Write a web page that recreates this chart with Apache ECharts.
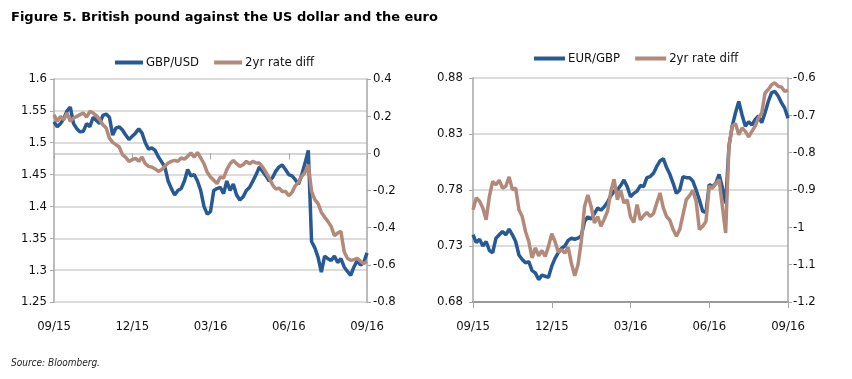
<!DOCTYPE html>
<html><head><meta charset="utf-8">
<script src="https://cdn.jsdelivr.net/npm/echarts@6/dist/echarts.min.js"></script>
<style>html,body{margin:0;padding:0;background:#fff}#c{width:852px;height:379px}</style>
</head><body><div id="c"></div>
<script>
const titleText = 'Figure 5. British pound against the US dollar and the euro';
const sourceText = 'Source: Bloomberg.';
const tickLabels = ['09/15', '12/15', '03/16', '06/16', '09/16'];
const stepMonths = 0.125; // sampling step of the series below, in months from 09/15

const gbpusd = [
  1.533, 1.525, 1.530, 1.538, 1.550, 1.556, 1.530, 1.522,
  1.517, 1.518, 1.530, 1.525, 1.540, 1.535, 1.530, 1.543,
  1.545, 1.540, 1.512, 1.523, 1.525, 1.520, 1.512, 1.505,
  1.510, 1.515, 1.522, 1.515, 1.500, 1.490, 1.492, 1.488,
  1.478, 1.470, 1.462, 1.440, 1.428, 1.418, 1.425, 1.428,
  1.440, 1.458, 1.448, 1.450, 1.440, 1.425, 1.400, 1.388,
  1.392, 1.425, 1.428, 1.430, 1.420, 1.440, 1.425, 1.435,
  1.418, 1.410, 1.415, 1.425, 1.430, 1.440, 1.450, 1.462,
  1.455, 1.448, 1.440, 1.445, 1.455, 1.462, 1.465, 1.458,
  1.450, 1.448, 1.442, 1.435, 1.450, 1.468, 1.488, 1.345,
  1.335, 1.320, 1.297, 1.322, 1.318, 1.315, 1.322, 1.312,
  1.318, 1.305, 1.298, 1.292, 1.305, 1.315, 1.308, 1.312,
  1.327
];
const gbpRateDiff = [
  0.208, 0.172, 0.199, 0.181, 0.217, 0.172, 0.190, 0.199,
  0.208, 0.217, 0.195, 0.226, 0.217, 0.203, 0.181, 0.154,
  0.136, 0.082, 0.059, 0.047, 0.034, -0.007, -0.022, -0.043,
  -0.034, -0.027, -0.043, -0.020, -0.056, -0.070, -0.074, -0.084,
  -0.097, -0.088, -0.070, -0.052, -0.043, -0.038, -0.043, -0.025,
  -0.031, -0.016, 0.002, -0.020, 0.005, -0.025, -0.056, -0.102,
  -0.127, -0.145, -0.163, -0.127, -0.133, -0.088, -0.056, -0.038,
  -0.056, -0.070, -0.061, -0.043, -0.056, -0.043, -0.052, -0.052,
  -0.074, -0.102, -0.133, -0.169, -0.192, -0.187, -0.205, -0.205,
  -0.228, -0.210, -0.174, -0.156, -0.124, -0.102, -0.061, -0.205,
  -0.249, -0.271, -0.318, -0.343, -0.366, -0.393, -0.443, -0.429,
  -0.420, -0.530, -0.565, -0.576, -0.572, -0.565, -0.581, -0.594,
  -0.581
];
const eurgbp = [
  0.740, 0.733, 0.736, 0.730, 0.734, 0.726, 0.724, 0.737,
  0.740, 0.743, 0.740, 0.745, 0.740, 0.734, 0.722, 0.718,
  0.715, 0.716, 0.708, 0.706, 0.700, 0.704, 0.703, 0.702,
  0.712, 0.719, 0.724, 0.728, 0.730, 0.735, 0.737, 0.736,
  0.737, 0.739, 0.752, 0.756, 0.754, 0.759, 0.764, 0.762,
  0.765, 0.769, 0.775, 0.779, 0.780, 0.784, 0.789, 0.783,
  0.774, 0.777, 0.779, 0.784, 0.783, 0.791, 0.792, 0.795,
  0.801, 0.806, 0.808, 0.800, 0.794, 0.786, 0.777, 0.780,
  0.792, 0.791, 0.791, 0.788, 0.780, 0.771, 0.761, 0.760,
  0.785, 0.783, 0.786, 0.794, 0.782, 0.768, 0.819, 0.837,
  0.849, 0.859, 0.847, 0.837, 0.841, 0.838, 0.843, 0.846,
  0.840, 0.849, 0.859, 0.867, 0.868, 0.864, 0.858, 0.853,
  0.844
];
const eurRateDiff = [
  -0.953, -0.921, -0.930, -0.948, -0.980, -0.917, -0.877, -0.886,
  -0.874, -0.895, -0.890, -0.865, -0.899, -0.895, -0.953, -0.971,
  -1.011, -1.038, -1.082, -1.055, -1.076, -1.062, -1.078, -1.051,
  -1.017, -1.038, -1.067, -1.060, -1.069, -1.053, -1.097, -1.130,
  -1.100, -1.038, -0.944, -0.913, -0.944, -0.988, -0.971, -0.997,
  -0.978, -0.957, -0.904, -0.871, -0.926, -0.901, -0.935, -0.926,
  -0.972, -0.987, -0.939, -0.980, -0.969, -0.960, -0.971, -0.963,
  -0.935, -0.908, -0.948, -0.971, -0.981, -1.006, -1.024, -1.006,
  -0.966, -0.926, -0.915, -0.901, -0.930, -1.006, -0.997, -0.984,
  -0.890, -0.895, -0.883, -0.872, -0.944, -1.015, -0.783, -0.729,
  -0.722, -0.752, -0.734, -0.743, -0.758, -0.743, -0.729, -0.707,
  -0.694, -0.640, -0.631, -0.618, -0.613, -0.622, -0.624, -0.636,
  -0.633
];

const BLUE = '#275A94';
const BROWN = '#B3897A';
const AXIS = '#A6A6A6';
const GRIDC = '#DCDCDC';
const TXT = '#111111';
const FONT = '"DejaVu Sans Condensed", "Liberation Sans Narrow", sans-serif';

function pairs(arr) { return arr.map((v, i) => [i * stepMonths, v]); }

function xAxisCfg(gridIndex, lineColor, lineWidth) {
  return {
    type: 'value', gridIndex, min: 0, max: 12, interval: 3,
    axisLine: { show: true, lineStyle: { color: lineColor, width: lineWidth } },
    axisTick: { show: true, length: 6, lineStyle: { color: AXIS } },
    axisLabel: { margin: 18, color: TXT, fontSize: 13, fontFamily: FONT,
      formatter: v => tickLabels[Math.round(v / 3)] },
    splitLine: { show: false }
  };
}
function yAxisCfg(gridIndex, position, min, max, interval, split, margin) {
  return {
    type: 'value', gridIndex, position, min, max, interval,
    axisLine: { show: true, onZero: false, lineStyle: { color: AXIS, width: 1.5 } },
    axisTick: { show: true, length: 4, lineStyle: { color: AXIS } },
    axisLabel: { margin, color: TXT, fontSize: 13, fontFamily: FONT },
    splitLine: { show: split, lineStyle: { color: GRIDC, width: 2 } }
  };
}
function lineSeries(name, data, xi, yi, color) {
  return {
    name, type: 'line', xAxisIndex: xi, yAxisIndex: yi, data: pairs(data),
    showSymbol: false, symbol: 'none', animation: false,
    lineStyle: { color, width: 3.5 }, itemStyle: { color }
  };
}

const chart = echarts.init(document.getElementById('c'), null, { renderer: 'canvas' });
chart.setOption({
  backgroundColor: '#fff',
  animation: false,
  title: [
    { text: titleText, left: 6, top: 6, textStyle: { fontSize: 13, fontWeight: 'bold', color: '#000', fontFamily: '"DejaVu Sans", sans-serif' } },
    { text: sourceText, left: 6, top: 353, textStyle: { fontSize: 10, fontWeight: 'normal', fontStyle: 'italic', color: '#222', fontFamily: '"Liberation Sans Narrow", "DejaVu Sans Condensed", sans-serif' } }
  ],
  legend: [
    { data: ['GBP/USD', { name: '2yr rate diff ' }], left: 110, top: 51, icon: 'rect', itemWidth: 28, itemHeight: 4, itemGap: 15,
      textStyle: { fontSize: 13, color: TXT, fontFamily: FONT, padding: [0, 0, 0, -2] } },
    { data: ['EUR/GBP', { name: '2yr rate diff' }], left: 529, top: 47, icon: 'rect', itemWidth: 31, itemHeight: 4, itemGap: 15,
      textStyle: { fontSize: 13, color: TXT, fontFamily: FONT, padding: [0, 0, 0, -2] } }
  ],
  grid: [
    { left: 54, top: 79, width: 313, height: 223 },
    { left: 473, top: 78, width: 315, height: 224 }
  ],
  xAxis: [xAxisCfg(0, '#C8C8C8', 1.5), xAxisCfg(1, '#999999', 2)],
  yAxis: [
    yAxisCfg(0, 'left', 1.25, 1.6, 0.05, true, 7),
    yAxisCfg(0, 'right', -0.8, 0.4, 0.2, false, 6),
    yAxisCfg(1, 'left', 0.68, 0.88, 0.05, true, 10),
    yAxisCfg(1, 'right', -1.2, -0.6, 0.1, false, 5)
  ],
  series: [
    lineSeries('GBP/USD', gbpusd, 0, 0, BLUE),
    lineSeries('2yr rate diff ', gbpRateDiff, 0, 1, BROWN),
    lineSeries('EUR/GBP', eurgbp, 1, 2, BLUE),
    lineSeries('2yr rate diff', eurRateDiff, 1, 3, BROWN)
  ]
});
</script>
</body></html>
